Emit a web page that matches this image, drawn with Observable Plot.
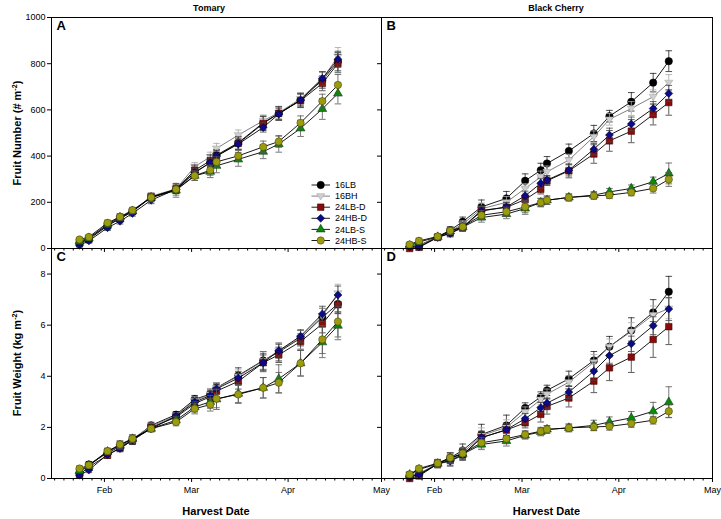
<!DOCTYPE html>
<html><head><meta charset="utf-8">
<script src="https://cdn.jsdelivr.net/npm/d3@7"></script>
<script src="https://cdn.jsdelivr.net/npm/@observablehq/plot@0.6"></script>
<style>
body{margin:0;background:#fff;font-family:"Liberation Sans",Arial,sans-serif;}
#chart{position:relative;width:721px;height:519px;overflow:hidden;background:#fff;}
#chart svg{position:absolute;left:0;top:0;}
.t{position:absolute;font-weight:bold;white-space:nowrap;color:#000;line-height:1;}
.t sup{font-size:0.65em;vertical-align:0.45em;line-height:0;}
</style></head><body><div id="chart"></div><script>
// ---------------- data ----------------
const harvestDates = ["2015-01-24","2015-01-27","2015-02-02","2015-02-06","2015-02-10","2015-02-16","2015-02-24","2015-03-02","2015-03-07","2015-03-09","2015-03-16","2015-03-24","2015-03-29","2015-04-05","2015-04-12","2015-04-17"];
const seriesNames = ["16LB","16BH","24LB-D","24HB-D","24LB-S","24HB-S"];
const cultivars = ["Tomary","Black Cherry"];
const monthTicks = ["2015-02-01","2015-03-01","2015-04-01","2015-05-01"];
const monthLabels = ["Feb","Mar","Apr","May"];
const numberTicks = [0,200,400,600,800,1000];
const weightTicks = [0,2,4,6,8];

// Panel A: Tomary, fruit number (# m-2)
const A_16LB  = [25,43,101,130,160,224,256,330,372,404,458,544,585,643,729,809];
const A_16BH  = [28,45,100,130,160,226,258,354,397,433,491,553,588,648,735,830];
const A_24LBD = [22,40,98,130,160,222,256,339,380,400,455,541,585,640,715,801];
const A_24HBD = [14,33,90,118,152,209,256,328,371,400,452,524,582,643,736,819];
const A_24LBS = [30,45,105,135,162,220,252,315,332,358,386,419,452,520,604,671];
const A_24HBS = [39,50,111,137,166,221,256,315,339,375,401,440,463,544,638,708];
const A_16LB_se  = [8,10,12,14,12,15,18,20,22,25,28,30,30,30,35,40];
const A_16BH_se  = [8,10,12,12,12,15,15,18,20,22,22,25,25,25,30,40];
const A_24LBD_se = [8,10,12,14,12,15,18,22,25,25,28,30,28,30,32,40];
const A_24HBD_se = [8,10,12,12,12,15,18,20,20,22,25,20,25,25,30,35];
const A_24LBS_se = [8,10,12,14,12,18,30,20,25,30,30,30,35,35,45,45];
const A_24HBS_se = [8,10,12,14,12,18,25,20,22,22,25,25,25,30,30,45];

// Panel B: Black Cherry, fruit number (# m-2)
const B_16LB  = [10,14,50,79,116,180,217,293,339,368,422,498,573,635,718,811];
const B_16BH  = [14,12,50,75,105,172,200,260,310,332,383,484,559,606,657,718];
const B_24LBD = [0,5,48,68,92,165,178,212,256,293,336,409,466,508,580,632];
const B_24HBD = [8,7,48,65,90,162,180,228,282,296,339,430,491,539,606,671];
const B_24LBS = [12,28,50,75,92,134,149,173,199,209,221,231,245,260,289,325];
const B_24HBS = [17,33,52,77,94,144,159,180,199,209,221,228,231,243,260,299];
const B_16LB_se  = [10,12,12,15,20,30,30,30,30,30,30,35,25,40,40,45];
const B_16BH_se  = [10,12,12,15,15,25,25,20,25,25,25,25,25,30,30,35];
const B_24LBD_se = [10,12,12,15,15,20,20,20,20,20,30,40,45,50,45,55];
const B_24HBD_se = [10,12,12,15,15,20,20,20,20,20,25,25,30,30,30,35];
const B_24LBS_se = [10,10,12,15,18,20,20,25,18,18,15,15,15,15,20,45];
const B_24HBS_se = [10,12,12,15,18,20,20,25,18,18,15,15,15,15,20,30];

// Panel C: Tomary, fruit weight (kg m-2)
const C_16LB  = [0.2,0.55,1.0,1.25,1.5,2.08,2.5,3.1,3.3,3.55,4.03,4.62,4.95,5.49,6.31,6.83];
const C_16BH  = [0.25,0.5,1.05,1.3,1.55,2.05,2.45,3.05,3.3,3.55,4.0,4.6,5.0,5.5,6.35,7.25];
const C_24LBD = [0.15,0.45,0.91,1.2,1.48,2.0,2.4,2.93,3.2,3.42,3.8,4.53,4.84,5.36,6.05,6.8];
const C_24HBD = [0.13,0.33,0.94,1.17,1.5,1.95,2.44,2.99,3.25,3.51,3.93,4.53,5.0,5.57,6.44,7.18];
const C_24LBS = [0.3,0.5,1.05,1.3,1.55,1.95,2.28,2.8,3.0,3.1,3.32,3.55,3.9,4.51,5.33,5.98];
const C_24HBS = [0.39,0.52,1.07,1.33,1.56,1.95,2.21,2.73,2.89,3.12,3.29,3.55,3.75,4.51,5.44,6.14];
const C_16LB_se  = [0.1,0.1,0.12,0.15,0.15,0.12,0.12,0.15,0.2,0.2,0.3,0.35,0.35,0.3,0.35,0.35];
const C_16BH_se  = [0.1,0.1,0.12,0.15,0.15,0.12,0.12,0.15,0.2,0.2,0.25,0.35,0.3,0.3,0.3,0.35];
const C_24LBD_se = [0.1,0.1,0.12,0.15,0.15,0.12,0.12,0.15,0.2,0.25,0.3,0.35,0.3,0.3,0.35,0.35];
const C_24HBD_se = [0.1,0.1,0.12,0.12,0.12,0.12,0.12,0.15,0.2,0.2,0.25,0.3,0.25,0.25,0.3,0.35];
const C_24LBS_se = [0.1,0.1,0.12,0.15,0.15,0.12,0.15,0.2,0.25,0.4,0.35,0.4,0.55,0.5,0.6,0.55];
const C_24HBS_se = [0.1,0.1,0.12,0.15,0.15,0.12,0.15,0.2,0.25,0.35,0.35,0.4,0.4,0.5,0.55,0.6];

// Panel D: Black Cherry, fruit weight (kg m-2)
const D_16LB  = [0.12,0.13,0.59,0.81,1.1,1.72,2.08,2.76,3.19,3.45,3.9,4.62,5.16,5.79,6.5,7.31];
const D_16BH  = [0.15,0.2,0.58,0.78,1.0,1.68,2.0,2.6,3.09,3.3,3.77,4.55,5.16,5.75,6.4,6.65];
const D_24LBD = [0.0,0.1,0.57,0.72,0.93,1.6,1.9,2.18,2.51,2.82,3.15,3.81,4.33,4.75,5.44,5.94];
const D_24HBD = [0.05,0.16,0.57,0.68,0.91,1.6,1.91,2.34,2.77,2.95,3.38,4.2,4.81,5.27,5.98,6.63];
const D_24LBS = [0.15,0.35,0.58,0.8,0.95,1.33,1.47,1.69,1.82,1.92,1.98,2.08,2.21,2.37,2.63,2.99];
const D_24HBS = [0.16,0.39,0.6,0.81,0.98,1.4,1.56,1.72,1.85,1.92,1.98,2.02,2.04,2.15,2.28,2.63];
const D_16LB_se  = [0.1,0.12,0.15,0.2,0.25,0.4,0.4,0.2,0.2,0.2,0.3,0.35,0.4,0.5,0.5,0.6];
const D_16BH_se  = [0.1,0.12,0.15,0.2,0.2,0.3,0.3,0.2,0.2,0.2,0.25,0.3,0.3,0.35,0.35,0.4];
const D_24LBD_se = [0.1,0.12,0.15,0.2,0.2,0.25,0.25,0.2,0.3,0.3,0.35,0.45,0.5,0.6,0.7,0.7];
const D_24HBD_se = [0.1,0.12,0.15,0.2,0.2,0.25,0.25,0.2,0.2,0.2,0.25,0.35,0.3,0.3,0.35,0.45];
const D_24LBS_se = [0.1,0.1,0.15,0.2,0.2,0.2,0.2,0.15,0.15,0.15,0.15,0.2,0.2,0.25,0.35,0.6];
const D_24HBS_se = [0.1,0.1,0.15,0.2,0.2,0.2,0.2,0.15,0.15,0.15,0.15,0.15,0.15,0.15,0.15,0.25];

// ---------------- styles ----------------
const triDown = {draw(ctx, size){ const r = Math.sqrt(size/Math.PI)*1.2; ctx.moveTo(-r,-r*0.6); ctx.lineTo(r,-r*0.6); ctx.lineTo(0,r*0.95); ctx.closePath(); }};
const capSym = {draw(ctx){ ctx.moveTo(-3.3,0); ctx.lineTo(3.3,0); }};
const seriesSymbol = [d3.symbolCircle, triDown, d3.symbolSquare, d3.symbolDiamond2, d3.symbolTriangle, d3.symbolCircle];
const seriesR      = [3.7, 3.4, 3.7, 3.6, 3.3, 3.7];
const seriesFill   = ["#000000","#cfcfcf","#8b0a0a","#0a0a8b","#0a8a0a","#9b9b10"];
const seriesStroke = ["#000000","#a0a0a0","#2a0000","#00002a","#003000","#3a3a00"];
const seriesLine   = ["#000000","#707070","#000000","#000000","#000000","#000000"];
const seriesErr    = ["#222222","#a8a8a8","#333333","#444444","#555555","#555555"];
const W = 721, H = 519;
const FONT = "'Liberation Sans', Arial, sans-serif";

const xDomain = [new Date("2015-01-15"), new Date("2015-05-01")];
const monthDates = monthTicks.map(d => new Date(d));
const monthLabelOf = new Map(monthDates.map((d,i) => [+d, monthLabels[i]]));
const minorTicks = d3.utcDay.every(3).range(xDomain[0], d3.utcDay.offset(xDomain[1],1)).filter(d => !monthLabelOf.has(+d));
const dates = harvestDates.map(d => new Date(d));

const panels = [
  {frame:[51,17,381,248], y:[0,1000], ticks:numberTicks, letter:"A", yLab:true,  xLab:false,
   vals:[A_16LB,A_16BH,A_24LBD,A_24HBD,A_24LBS,A_24HBS], errs:[A_16LB_se,A_16BH_se,A_24LBD_se,A_24HBD_se,A_24LBS_se,A_24HBS_se]},
  {frame:[381,17,712,248], y:[0,1000], ticks:numberTicks, letter:"B", yLab:false, xLab:false,
   vals:[B_16LB,B_16BH,B_24LBD,B_24HBD,B_24LBS,B_24HBS], errs:[B_16LB_se,B_16BH_se,B_24LBD_se,B_24HBD_se,B_24LBS_se,B_24HBS_se]},
  {frame:[51,248,381,478], y:[0,9], ticks:weightTicks, letter:"C", yLab:true,  xLab:true,
   vals:[C_16LB,C_16BH,C_24LBD,C_24HBD,C_24LBS,C_24HBS], errs:[C_16LB_se,C_16BH_se,C_24LBD_se,C_24HBD_se,C_24LBS_se,C_24HBS_se]},
  {frame:[381,248,712,478], y:[0,9], ticks:weightTicks, letter:"D", yLab:false, xLab:true,
   vals:[D_16LB,D_16BH,D_24LBD,D_24HBD,D_24LBS,D_24HBS], errs:[D_16LB_se,D_16BH_se,D_24LBD_se,D_24HBD_se,D_24LBS_se,D_24HBS_se]}
];

const chart = document.getElementById("chart");

for (const p of panels) {
  const [x0,y0,x1,y1] = p.frame;
  const marks = [
    Plot.axisY(p.ticks, {tickSize:4, tickPadding:2, fontSize:9, label:null, stroke:"#000",
      tickFormat: p.yLab ? (d => String(d)) : (() => "")}),
    Plot.axisX(minorTicks, {tickSize:2.5, tickFormat: () => "", label:null, stroke:"#000"}),
    Plot.axisX(monthDates, {tickSize:4, tickPadding:4, fontSize:9, label:null, stroke:"#000",
      tickFormat: p.xLab ? (d => monthLabelOf.get(+d)) : (() => "")})
  ];
  seriesNames.forEach((name, i) => {
    const data = dates.map((d, j) => ({date:d, v:p.vals[i][j], e:p.errs[i][j], series:name}));
    marks.push(
      Plot.ruleX(data, {x:"date", y1:d => d.v - d.e, y2:d => d.v + d.e, stroke:seriesErr[i], strokeWidth:0.8, clip:true}),
      Plot.dot(data, {x:"date", y:d => d.v + d.e, symbol:capSym, r:1, fill:"none", stroke:seriesErr[i], strokeWidth:0.8, clip:true}),
      Plot.dot(data, {x:"date", y:d => d.v - d.e, symbol:capSym, r:1, fill:"none", stroke:seriesErr[i], strokeWidth:0.8, clip:true}),
      Plot.line(data, {x:"date", y:"v", stroke:seriesLine[i], strokeWidth:0.9}),
      Plot.dot(data, {x:"date", y:"v", symbol:seriesSymbol[i], r:seriesR[i], fill:seriesFill[i], stroke:seriesStroke[i], strokeWidth:0.5})
    );
  });
  marks.push(Plot.frame({stroke:"#000", strokeWidth:1}));
  marks.push(Plot.text([p.letter], {frameAnchor:"top-left", dx:5, dy:3, fontSize:13, fontWeight:"bold", textAnchor:"start", lineAnchor:"top", fill:"#000"}));

  const svg = Plot.plot({
    width: W, height: H,
    marginLeft: x0, marginRight: W - x1, marginTop: y0, marginBottom: H - y1,
    x: {type:"utc", domain:xDomain},
    y: {domain:p.y},
    style: {background:"transparent", overflow:"visible", fontFamily:FONT, color:"#000"},
    marks
  });
  chart.appendChild(svg);
}

// ---------------- legend (panel A) ----------------
const lg = d3.select(chart).append("svg").attr("width", W).attr("height", H).style("overflow","visible");
seriesNames.forEach((name, i) => {
  const cy = 185 + i * 11.1;
  const g = lg.append("g");
  g.append("line").attr("x1", 311.5).attr("x2", 330).attr("y1", cy).attr("y2", cy)
    .attr("stroke", seriesLine[i]).attr("stroke-width", 0.9);
  g.append("path").attr("transform", `translate(320.7,${cy})`)
    .attr("d", d3.symbol(seriesSymbol[i], Math.PI * seriesR[i] * seriesR[i])())
    .attr("fill", seriesFill[i]).attr("stroke", seriesStroke[i]).attr("stroke-width", 0.5);
  g.append("text").attr("x", 335).attr("y", cy).attr("dy", "0.35em")
    .attr("font-size", 9).attr("font-family", FONT).attr("fill", "#000").text(name);
});

// ---------------- titles and axis titles ----------------
function label(html, x, y, size, rotate) {
  const d = document.createElement("div");
  d.className = "t";
  d.innerHTML = html;
  d.style.left = x + "px";
  d.style.top = y + "px";
  d.style.fontSize = size + "px";
  d.style.transform = "translate(-50%,-50%)" + (rotate ? " rotate(-90deg)" : "");
  chart.appendChild(d);
}
label(cultivars[0], 209, 7.5, 9);
label(cultivars[1], 556, 7.5, 9);
label("Harvest Date", 216, 511, 11);
label("Harvest Date", 546.5, 511, 11);
label("Fruit Number (# m<sup>-2</sup>)", 17, 132.5, 11, true);
label("Fruit Weight (kg m<sup>-2</sup>)", 17, 363, 11, true);
</script></body></html>
